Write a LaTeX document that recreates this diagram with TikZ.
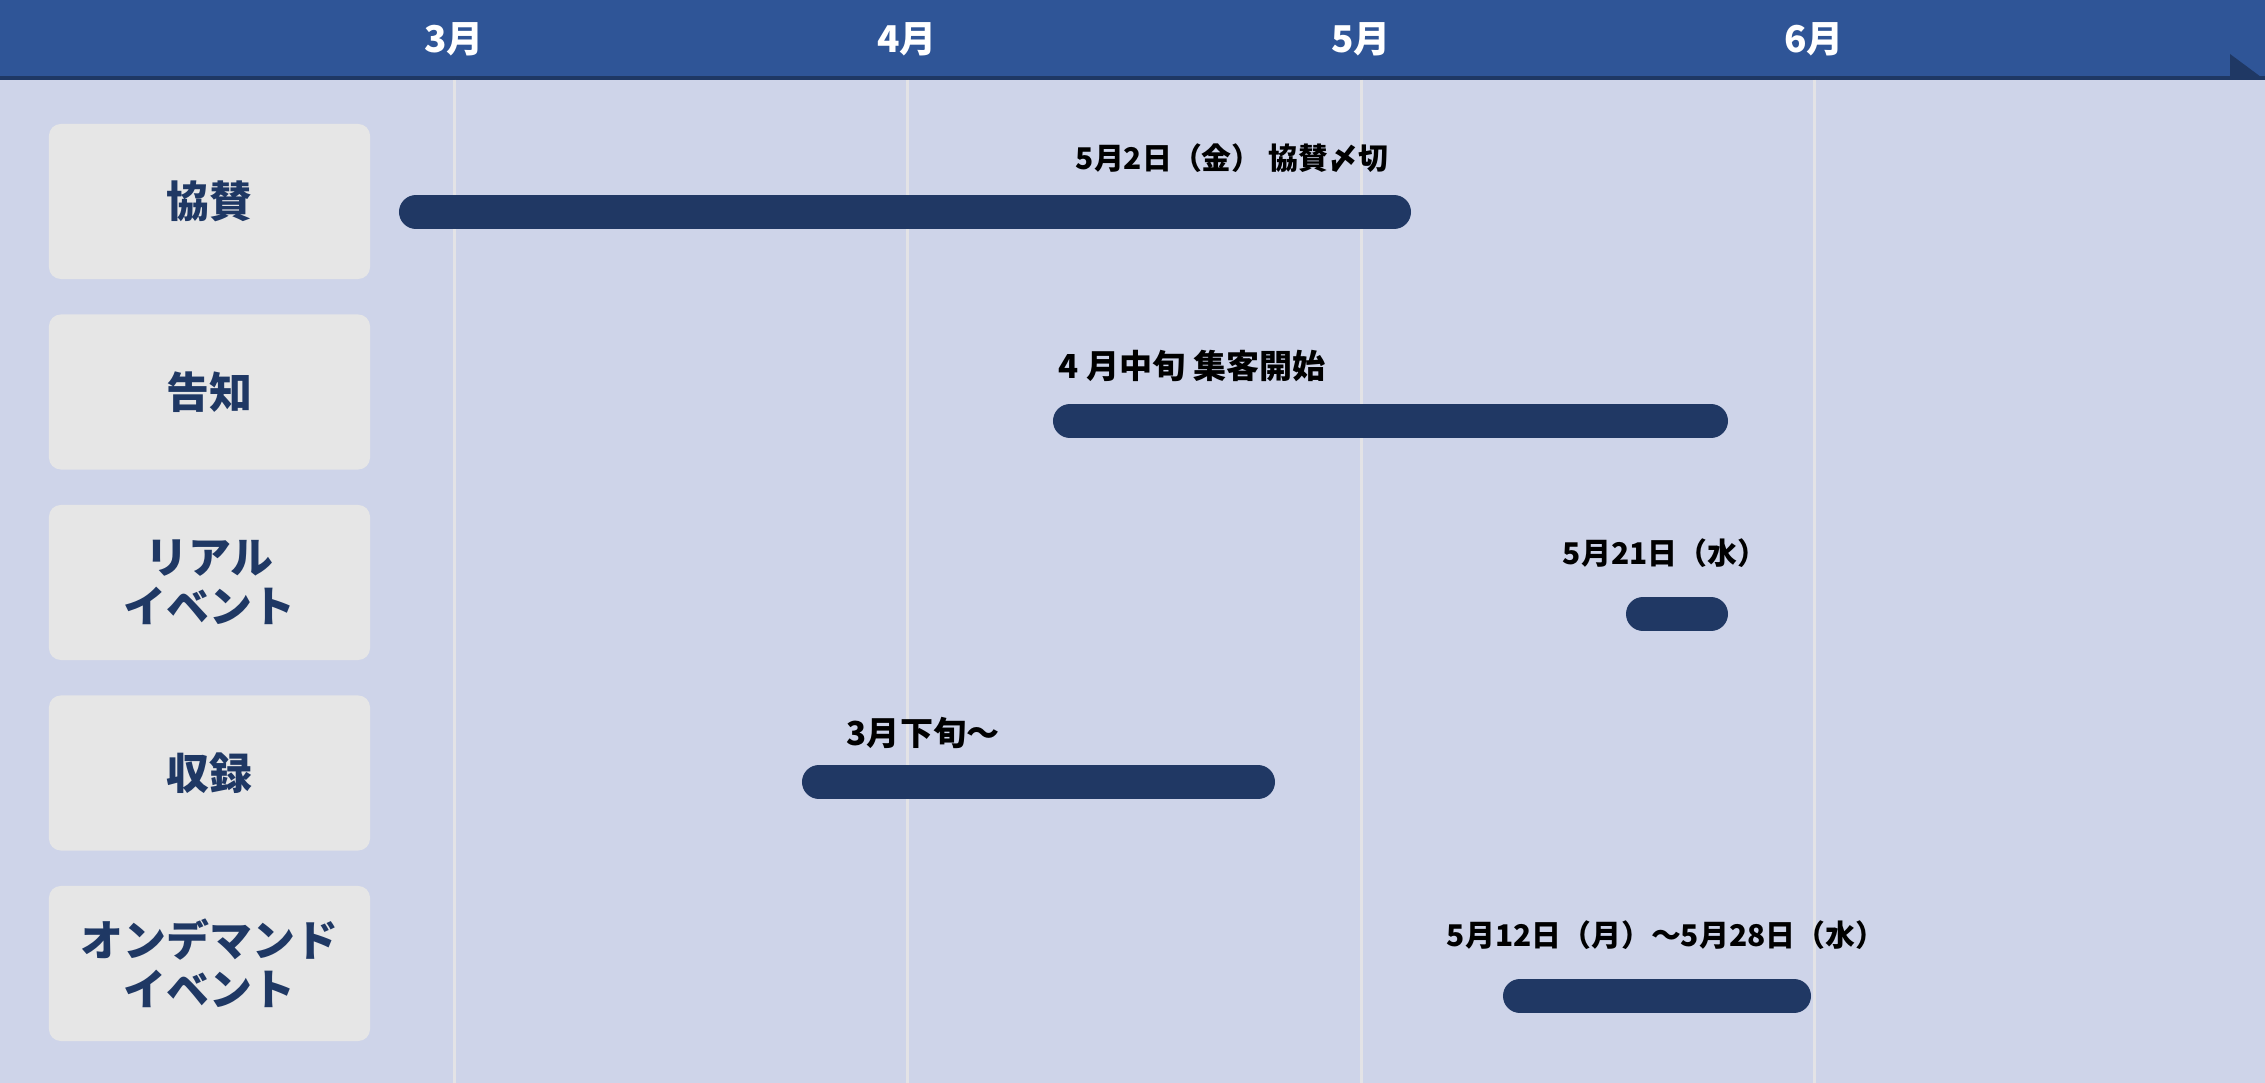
\documentclass[tikz,border=0pt]{standalone}
\usepackage{fontspec}
\setmainfont{Noto Sans CJK JP}
\usepackage{xcolor}
\usepackage{tikz}
\usetikzlibrary{positioning,calc}

\definecolor{cabecera}{HTML}{2F5597}
\definecolor{marino}{HTML}{1F3864}
\definecolor{barcol}{HTML}{203864}
\definecolor{fondo}{HTML}{CED4E9}
\definecolor{rejilla}{HTML}{E3E3E6}
\definecolor{caja}{HTML}{E6E6E6}

\begin{document}
\begin{tikzpicture}[x=0.01cm, y=-0.01cm, barra/.style = {draw=barcol, line width=0.34cm, line cap=round}]
					\tikzset{etiq/.style={fill=caja, rounded corners=0.12cm, minimum width=3.21cm, minimum height=1.55cm, inner sep=0pt, align=center, text=marino, font=\fontsize{12.2}{14}\selectfont\bfseries}}
					\tikzset{fecha/.style={inner sep=0pt, text=black, font=\fontsize{8.5}{10}\selectfont\bfseries}}
					\tikzset{fechag/.style={fecha, font=\fontsize{9.4}{11}\selectfont\bfseries}}
					\tikzset{mes/.style={inner sep=0pt, text=white, font=\fontsize{10.5}{12}\selectfont\bfseries}}

					\useasboundingbox (0,0) rectangle (2265,1083);

					% Fondo y cabecera
					\fill[fondo] (0,0) rectangle (2265,1083);
					\fill[cabecera] (0,0) rectangle (2265,76);
					\fill[marino] (0,76) rectangle (2265,80);
					\fill[marino] (2230,54) -- (2265,80) -- (2230,80) -- cycle;

					% Meses
					\foreach \m/\x in {3/454,4/907,5/1361,6/1814} {
						\draw[rejilla, line width=0.03cm] (\x,80) -- (\x,1083);
						\node[mes] (mes\m) at (\x,39) {\m{}月};
					}

					% Etiquetas
					\node[etiq] (kyo) at (209.5,201.5) {協賛};
					\node[etiq] (koku) at (209.5,392) {告知};
					\node[etiq] (real) at (209.5,582.5) {リアル\\イベント};
					\node[etiq] (shu) at (209.5,773) {収録};
					\node[etiq] (od) at (209.5,963.5) {オンデマンド\\イベント};

					% Barras
					\draw[barra] (416,212) -- (1394,212);
					\draw[barra] (1070,421) -- (1711,421);
					\draw[barra] (1643,614) -- (1711,614);
					\draw[barra] (819,782) -- (1258,782);
					\draw[barra] (1520,996) -- (1794,996);

					% Fechas
					\node[fecha] (fkyo) at (1232,158) {5月2日（金） 協賛〆切};
					\node[fechag] (fkoku) at (1192,366) {4 月中旬 集客開始};
					\node[fecha] (freal) at (1665,553) {5月21日（水）};
					\node[fechag] (fshu) at (923,733) {3月下旬〜};
					\node[fecha] (fod) at (1666,935) {5月12日（月）〜5月28日（水）};

				\end{tikzpicture}
\end{document}
